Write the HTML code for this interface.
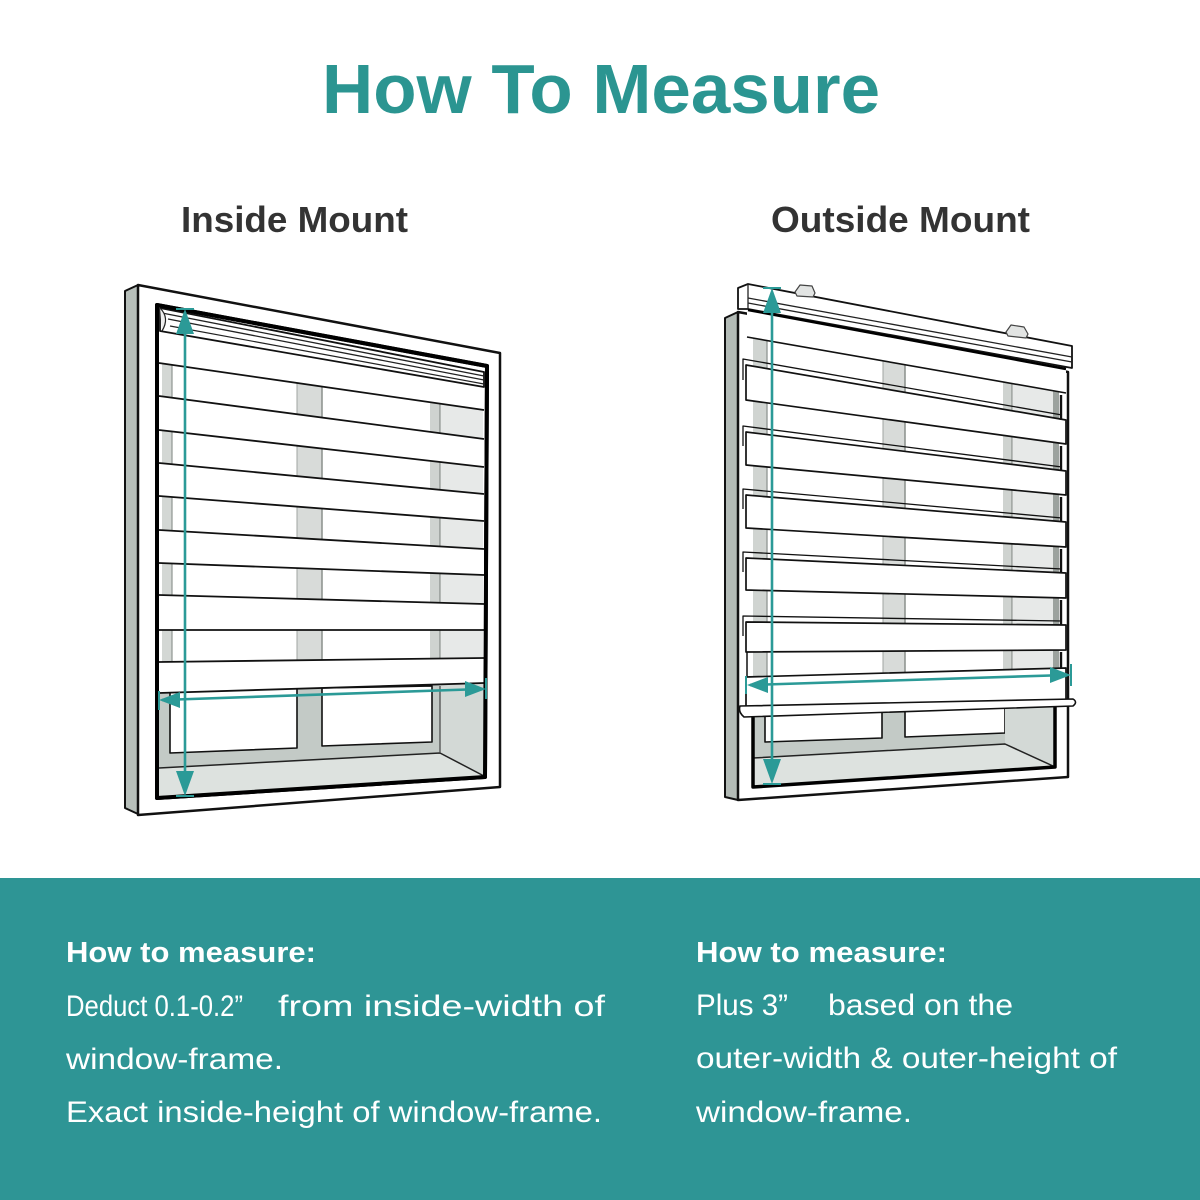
<!DOCTYPE html>
<html><head><meta charset="utf-8"><style>
html,body{margin:0;padding:0;background:#fff;}
svg{display:block;}
text{font-family:"Liberation Sans",Arial,sans-serif;}
</style></head><body>
<svg width="1200" height="1200" viewBox="0 0 1200 1200" xmlns="http://www.w3.org/2000/svg">
<defs>
<clipPath id="clipL"><polygon points="159,330 484,386 484,683 159,693"/></clipPath>
<clipPath id="clipR"><polygon points="747,337 1066,393 1066,668 747,677"/></clipPath>
</defs>
<rect x="0" y="0" width="1200" height="1200" fill="#fff"/>
<!-- Title -->
<text x="322" y="113" font-size="70" font-weight="bold" fill="#2b9591" textLength="558" lengthAdjust="spacingAndGlyphs">How To Measure</text>
<text x="181" y="232" font-size="36" font-weight="bold" fill="#333" textLength="227" lengthAdjust="spacingAndGlyphs">Inside Mount</text>
<text x="771" y="232" font-size="36" font-weight="bold" fill="#333" textLength="259" lengthAdjust="spacingAndGlyphs">Outside Mount</text>

<!-- ============ LEFT WINDOW (Inside Mount) ============ -->
<g stroke-linejoin="round">
<polygon points="125,291 138,285 138,814 125,808" fill="#b7bfba" stroke="#111" stroke-width="2"/>
<polygon points="138,285 500,353 500,787 138,815" fill="#fff" stroke="#111" stroke-width="2.5"/>
<polygon points="157,305 487,366 485,777 157,798" fill="#fff" stroke="#000" stroke-width="4"/>
<!-- lower window -->
<polygon points="159,688 484,680 484,776 159,796" fill="#c3cac6"/>
<polygon points="170,690 297,688 297,748 170,753" fill="#fff" stroke="#111" stroke-width="1.6"/>
<polygon points="322,688 432,686 432,742 322,746" fill="#fff" stroke="#111" stroke-width="1.6"/>
<polygon points="440,684 484,682 484,776 440,753" fill="#d3d9d6"/>
<polygon points="159,768 440,753 484,776 159,796" fill="#dde2df"/>
<polyline points="159,768 440,753 484,776" fill="none" stroke="#222" stroke-width="1.5"/>
<line x1="440" y1="686" x2="440" y2="753" stroke="#444" stroke-width="1.2"/>
<!-- blind sheet -->
<polygon points="159,308 484,372 484,683 159,693" fill="#fff"/>
<!-- see-through bars -->
<g clip-path="url(#clipL)">
<rect x="162" y="330" width="10" height="335" fill="#d3d7d4"/>
<line x1="172" y1="330" x2="172" y2="665" stroke="#8f9591" stroke-width="1.2"/>
<rect x="297" y="330" width="25" height="335" fill="#d8dbd9"/>
<line x1="297" y1="330" x2="297" y2="665" stroke="#a0a6a2" stroke-width="1"/>
<line x1="322" y1="330" x2="322" y2="665" stroke="#8a908c" stroke-width="1.5"/>
<rect x="430" y="330" width="10" height="335" fill="#cfd3d0"/>
<line x1="440" y1="330" x2="440" y2="665" stroke="#8a908c" stroke-width="1.3"/>
<rect x="441" y="330" width="42" height="335" fill="#e7e9e8"/>
</g>
<!-- opaque bands -->
<g fill="#fff">
<polygon points="159,330 484,386 484,410 159,363"/>
<polygon points="159,396 484,439 484,467 159,430"/>
<polygon points="159,463 484,494 484,521 159,496"/>
<polygon points="159,530 484,549 484,575 159,563"/>
<polygon points="159,595 484,604 484,630 159,630"/>
<polygon points="159,662 484,658 484,683 159,693"/>
</g>
<g stroke="#111" stroke-width="1.8">
<line x1="159" y1="363" x2="484" y2="410"/>
<line x1="159" y1="396" x2="484" y2="439"/>
<line x1="159" y1="430" x2="484" y2="467"/>
<line x1="159" y1="463" x2="484" y2="494"/>
<line x1="159" y1="496" x2="484" y2="521"/>
<line x1="159" y1="530" x2="484" y2="549"/>
<line x1="159" y1="563" x2="484" y2="575"/>
<line x1="159" y1="595" x2="484" y2="604"/>
<line x1="159" y1="630" x2="484" y2="630"/>
<line x1="159" y1="662" x2="484" y2="658"/>
<line x1="159" y1="693" x2="484" y2="683"/>
</g>
<!-- headrail -->
<polygon points="160,308 484,372 484,387 160,331" fill="#fff" stroke="#111" stroke-width="1.8"/>
<line x1="162" y1="313" x2="484" y2="376" stroke="#222" stroke-width="1.3"/>
<line x1="168" y1="319" x2="484" y2="380" stroke="#222" stroke-width="1.3"/>
<line x1="170" y1="326" x2="484" y2="384" stroke="#222" stroke-width="1.2"/>
<path d="M160,308 Q170,318 162,331" fill="#eee" stroke="#222" stroke-width="1.2"/>
<!-- re-stroke opening -->
<polygon points="157,305 487,366 485,777 157,798" fill="none" stroke="#000" stroke-width="4"/>
</g>
<!-- left arrows -->
<g stroke="#2b9a97" stroke-width="2.6" fill="#2b9a97">
<line x1="185" y1="312" x2="185" y2="792"/>
<line x1="176" y1="309" x2="194" y2="309" stroke-width="2"/>
<line x1="176" y1="796" x2="194" y2="796" stroke-width="2"/>
<polygon points="185,309 176,334 194,334" stroke="none"/>
<polygon points="185,796 176,771 194,771" stroke="none"/>
<line x1="162" y1="700" x2="482" y2="689"/>
<line x1="159" y1="691" x2="159" y2="710" stroke-width="2"/>
<line x1="486" y1="678" x2="486" y2="699" stroke-width="2"/>
<polygon points="159,700 180,692 180,708" stroke="none"/>
<polygon points="486,689 465,681 465,697" stroke="none"/>
</g>

<!-- ============ RIGHT WINDOW (Outside Mount) ============ -->
<g stroke-linejoin="round">
<polygon points="725,318 738,312 738,800 725,797" fill="#b3bbb6" stroke="#111" stroke-width="2"/>
<polygon points="738,312 1068,372 1068,777 738,800" fill="#fff" stroke="#111" stroke-width="2.5"/>
<!-- lower window -->
<polygon points="753,708 1055,703 1055,767 753,787" fill="#c3cac6"/>
<polygon points="765,710 882,708 882,738 765,742" fill="#fff" stroke="#111" stroke-width="1.6"/>
<polygon points="905,708 1005,706 1005,733 905,737" fill="#fff" stroke="#111" stroke-width="1.6"/>
<polygon points="1005,705 1055,704 1055,767 1005,744" fill="#d3d9d6"/>
<polygon points="753,758 1005,744 1055,767 753,787" fill="#dde2df"/>
<polyline points="753,758 1005,744 1053,766" fill="none" stroke="#222" stroke-width="1.5"/>
<polyline points="753,704 753,787 1055,767 1055,700" fill="none" stroke="#000" stroke-width="3.5"/>
<!-- blind sheet -->
<polygon points="747,308 1066,367 1066,668 747,677" fill="#fff"/>
<g clip-path="url(#clipR)">
<rect x="753" y="337" width="14" height="340" fill="#d0d4d1"/>
<line x1="767" y1="337" x2="767" y2="677" stroke="#8f9591" stroke-width="1.3"/>
<rect x="883" y="337" width="22" height="340" fill="#d8dbd9"/>
<line x1="883" y1="337" x2="883" y2="677" stroke="#a0a6a2" stroke-width="1"/>
<line x1="905" y1="337" x2="905" y2="677" stroke="#8a908c" stroke-width="1.5"/>
<rect x="1003" y="337" width="9" height="340" fill="#cfd3d0"/>
<line x1="1012" y1="337" x2="1012" y2="677" stroke="#8a908c" stroke-width="1.2"/>
<rect x="1013" y="337" width="40" height="340" fill="#e7e9e8"/>
<rect x="1053" y="337" width="6" height="340" fill="#9ca29e"/>
</g>
<line x1="747" y1="337" x2="1066" y2="393" stroke="#111" stroke-width="1.6"/>
<!-- slat panels -->
<g fill="#fff" stroke="#111" stroke-width="1.7">
<polygon points="746,365 1066,420 1066,444 746,400"/>
<polygon points="746,432 1066,471 1066,495 746,465"/>
<polygon points="746,495 1066,522 1066,547 746,528"/>
<polygon points="746,558 1066,573 1066,598 746,590"/>
<polygon points="746,622 1066,625 1066,650 746,652"/>
</g>
<g stroke="#111" stroke-width="1.3" fill="none">
<polyline points="743,380 743,359 1062,415"/>
<polyline points="743,446 743,426 1062,467"/>
<polyline points="743,509 743,489 1062,518"/>
<polyline points="743,572 743,552 1062,569"/>
<polyline points="743,636 743,616 1062,621"/>
</g>
<g stroke="#111" stroke-width="2.4">
<line x1="1061" y1="395" x2="1061" y2="420"/>
<line x1="1061" y1="446" x2="1061" y2="471"/>
<line x1="1061" y1="497" x2="1061" y2="522"/>
<line x1="1061" y1="549" x2="1061" y2="573"/>
<line x1="1061" y1="600" x2="1061" y2="625"/>
<line x1="1061" y1="652" x2="1061" y2="668"/>
</g>
<line x1="747" y1="652" x2="747" y2="677" stroke="#111" stroke-width="1.5"/>
<!-- bottom rail -->
<polygon points="746,677 1066,668 1066,702 746,708" fill="#fff" stroke="#111" stroke-width="1.7"/>
<path d="M740,706 L1073,699 Q1078,702 1073,706 L744,717 Q738,712 740,706 Z" fill="#fff" stroke="#111" stroke-width="1.6"/>
<!-- headrail -->
<polygon points="738,288 748,284 1072,346 1072,368 748,309 738,309" fill="#fff" stroke="#111" stroke-width="1.8"/>
<line x1="748" y1="298" x2="1072" y2="357" stroke="#222" stroke-width="1.3"/>
<line x1="748" y1="303" x2="1072" y2="362" stroke="#222" stroke-width="1.3"/>
<line x1="748" y1="284" x2="748" y2="309" stroke="#222" stroke-width="1.3"/>
<line x1="748" y1="310" x2="1066" y2="369" stroke="#000" stroke-width="2.5"/>
<!-- brackets -->
<polygon points="795,292 800,285 812,286 815,293 813,297 797,296" fill="#e2e4e3" stroke="#444" stroke-width="1.2"/>
<polygon points="1006,332 1011,325 1024,327 1028,334 1026,338 1008,336" fill="#e2e4e3" stroke="#444" stroke-width="1.2"/>
</g>
<!-- right arrows -->
<g stroke="#2b9a97" stroke-width="2.6" fill="#2b9a97">
<line x1="772" y1="292" x2="772" y2="780"/>
<line x1="763" y1="288" x2="781" y2="288" stroke-width="2"/>
<line x1="763" y1="784" x2="781" y2="784" stroke-width="2"/>
<polygon points="772,288 763,313 781,313" stroke="none"/>
<polygon points="772,784 763,759 781,759" stroke="none"/>
<line x1="750" y1="685" x2="1067" y2="675"/>
<line x1="746" y1="676" x2="746" y2="694" stroke-width="2"/>
<line x1="1071" y1="664" x2="1071" y2="686" stroke-width="2"/>
<polygon points="747,685 768,677 768,693" stroke="none"/>
<polygon points="1071,675 1050,667 1050,683" stroke="none"/>
</g>

<!-- ============ BOTTOM PANEL ============ -->
<rect x="0" y="878" width="1200" height="322" fill="#2e9595"/>
<g fill="#fff" font-size="30">
<text x="66" y="962" font-weight="bold" font-size="29" textLength="250" lengthAdjust="spacingAndGlyphs">How to measure:</text>
<text x="66" y="1016" textLength="177" lengthAdjust="spacingAndGlyphs">Deduct 0.1-0.2”</text>
<text x="278" y="1016" textLength="327" lengthAdjust="spacingAndGlyphs">from inside-width of</text>
<text x="66" y="1069" textLength="217" lengthAdjust="spacingAndGlyphs">window-frame.</text>
<text x="66" y="1122" textLength="536" lengthAdjust="spacingAndGlyphs">Exact inside-height of window-frame.</text>

<text x="696" y="962" font-weight="bold" font-size="29" textLength="251" lengthAdjust="spacingAndGlyphs">How to measure:</text>
<text x="696" y="1015" textLength="92" lengthAdjust="spacingAndGlyphs">Plus 3”</text>
<text x="828" y="1015" textLength="185" lengthAdjust="spacingAndGlyphs">based on the</text>
<text x="696" y="1068" textLength="421" lengthAdjust="spacingAndGlyphs">outer-width &amp; outer-height of</text>
<text x="696" y="1122" textLength="216" lengthAdjust="spacingAndGlyphs">window-frame.</text>
</g>
</svg>
</body></html>
